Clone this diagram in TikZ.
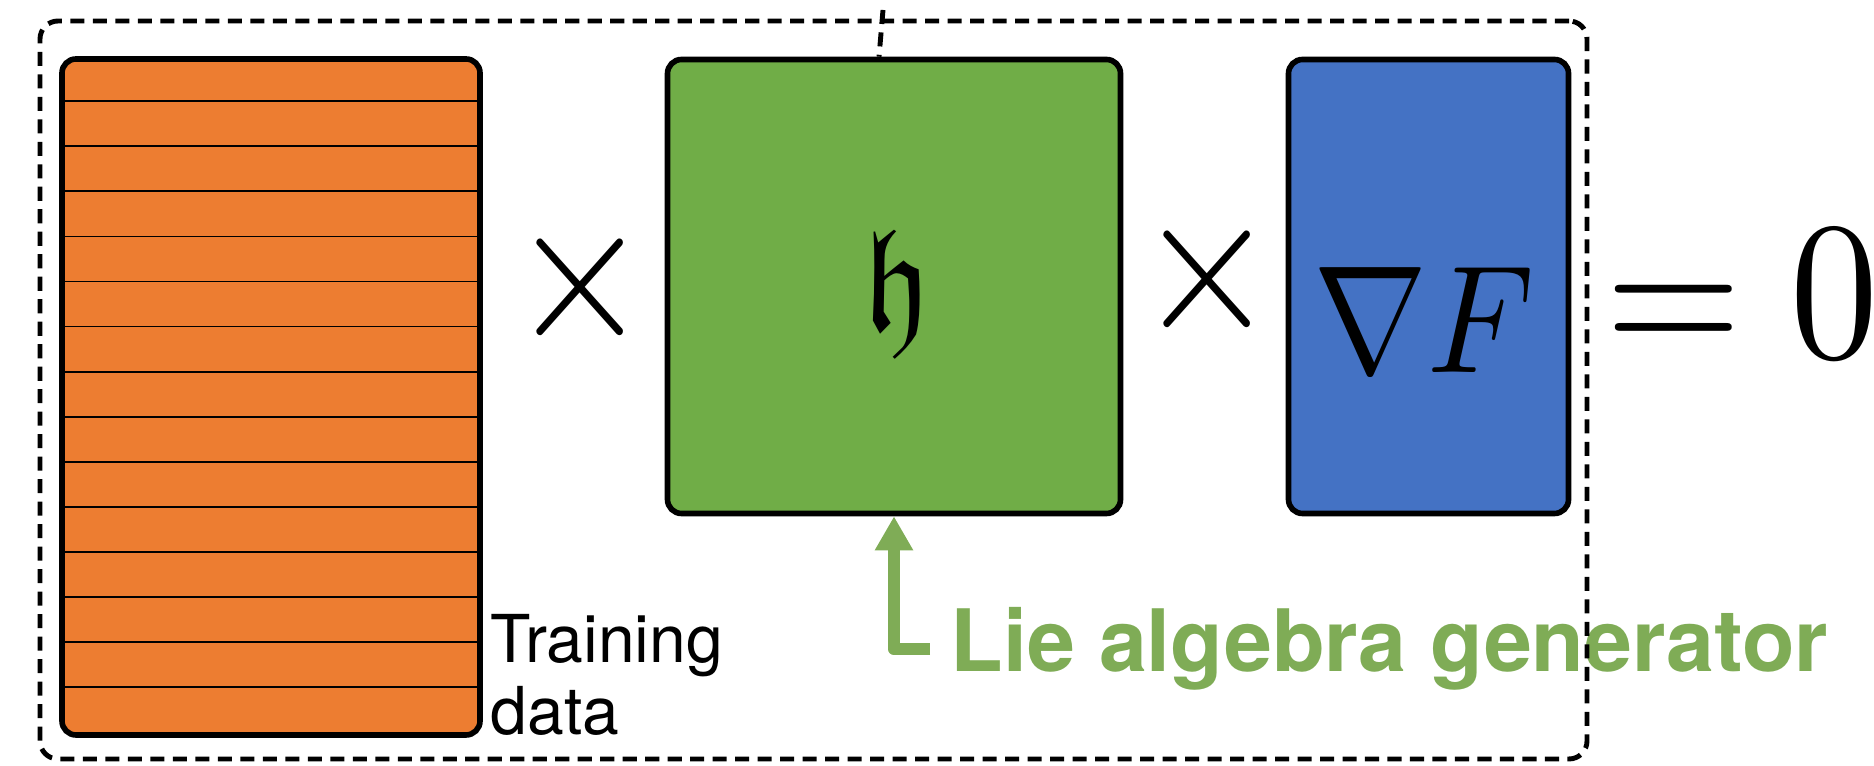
\documentclass[tikz,border=0pt]{standalone}
\usepackage{amssymb}
\usepackage{fontspec}
\setsansfont{TeX Gyre Heros}
\usetikzlibrary{arrows.meta}

\definecolor{dataorange}{HTML}{ED7D31}
\definecolor{gengreen}{HTML}{70AD47}
\definecolor{gradblue}{HTML}{4472C4}
\definecolor{liegreen}{RGB}{127,172,86}

\tikzset{
    block/.style={draw=black, line width=1.6pt, rounded corners=0.14cm, inner sep=0pt},
    stripe/.style={black, line width=0.5pt},
    frameline/.style={draw=black, line width=1.4pt, dash pattern=on 4pt off 2.4pt},
    bigmath/.style={inner sep=0pt, xscale=#1, yscale=1.12*#1},
    liearrow/.style={draw=liegreen, line width=0.12cm, line join=round, -{Triangle[length=0.34cm,width=0.36cm]}},
}

\begin{document}
\begin{tikzpicture}
    \useasboundingbox (0,0) rectangle (18.74,7.66);
    \node[block, fill=dataorange, minimum width=4.18cm, minimum height=6.76cm] (data) at (2.71,3.69) {};
    \pgfmathsetmacro{\rowh}{6.76/15}
    \foreach \k in {1,...,14}{
        \draw[stripe] ([yshift={-\k*\rowh*1cm}]data.north west) -- ([yshift={-\k*\rowh*1cm}]data.north east);
    }
    \node[bigmath=5.1] (times1) at (5.80,4.79) {$\times$};
    \node[block, fill=gengreen, minimum width=4.53cm, minimum height=4.54cm] (gen) at (8.94,4.795) {};
    \node[bigmath=3.7] (frak) at ([xshift=0.3mm,yshift=-0.75mm]gen.center) {$\mathfrak{h}$};
    \node[bigmath=5.1] (times2) at (12.07,4.87) {$\times$};
    \node[block, fill=gradblue, minimum width=2.80cm, minimum height=4.54cm] (grad) at (14.285,4.795) {};
    \node[bigmath=3.9] (nabla) at ([xshift=-0.45mm,yshift=-3.35mm]grad.center) {$\nabla F$};
    \node[bigmath=5, anchor=base west] (zero) at (16.02,4.08) {$=0$};

    \node[font=\sffamily\fontsize{18.8}{20.7}\selectfont, align=left, inner sep=0pt, anchor=base west] (train) at (4.90,0.31) {Training\\data};
    \node[font=\sffamily\bfseries\fontsize{24.5}{24.5}\selectfont, text=liegreen, inner sep=0pt, anchor=base west] (lie) at (9.50,0.94) {Lie algebra generator};
    \draw[liearrow] ([xshift=-2mm]lie.west) -| (gen.south);

    \node[frameline, rounded corners=0.18cm, minimum width=15.47cm, minimum height=7.38cm] (frame) at (8.135,3.76) {};
    \coordinate (tick) at (8.83,7.56);
    \draw[frameline] (tick) -- ([xshift=-1.5mm]gen.north);
\end{tikzpicture}
\end{document}
